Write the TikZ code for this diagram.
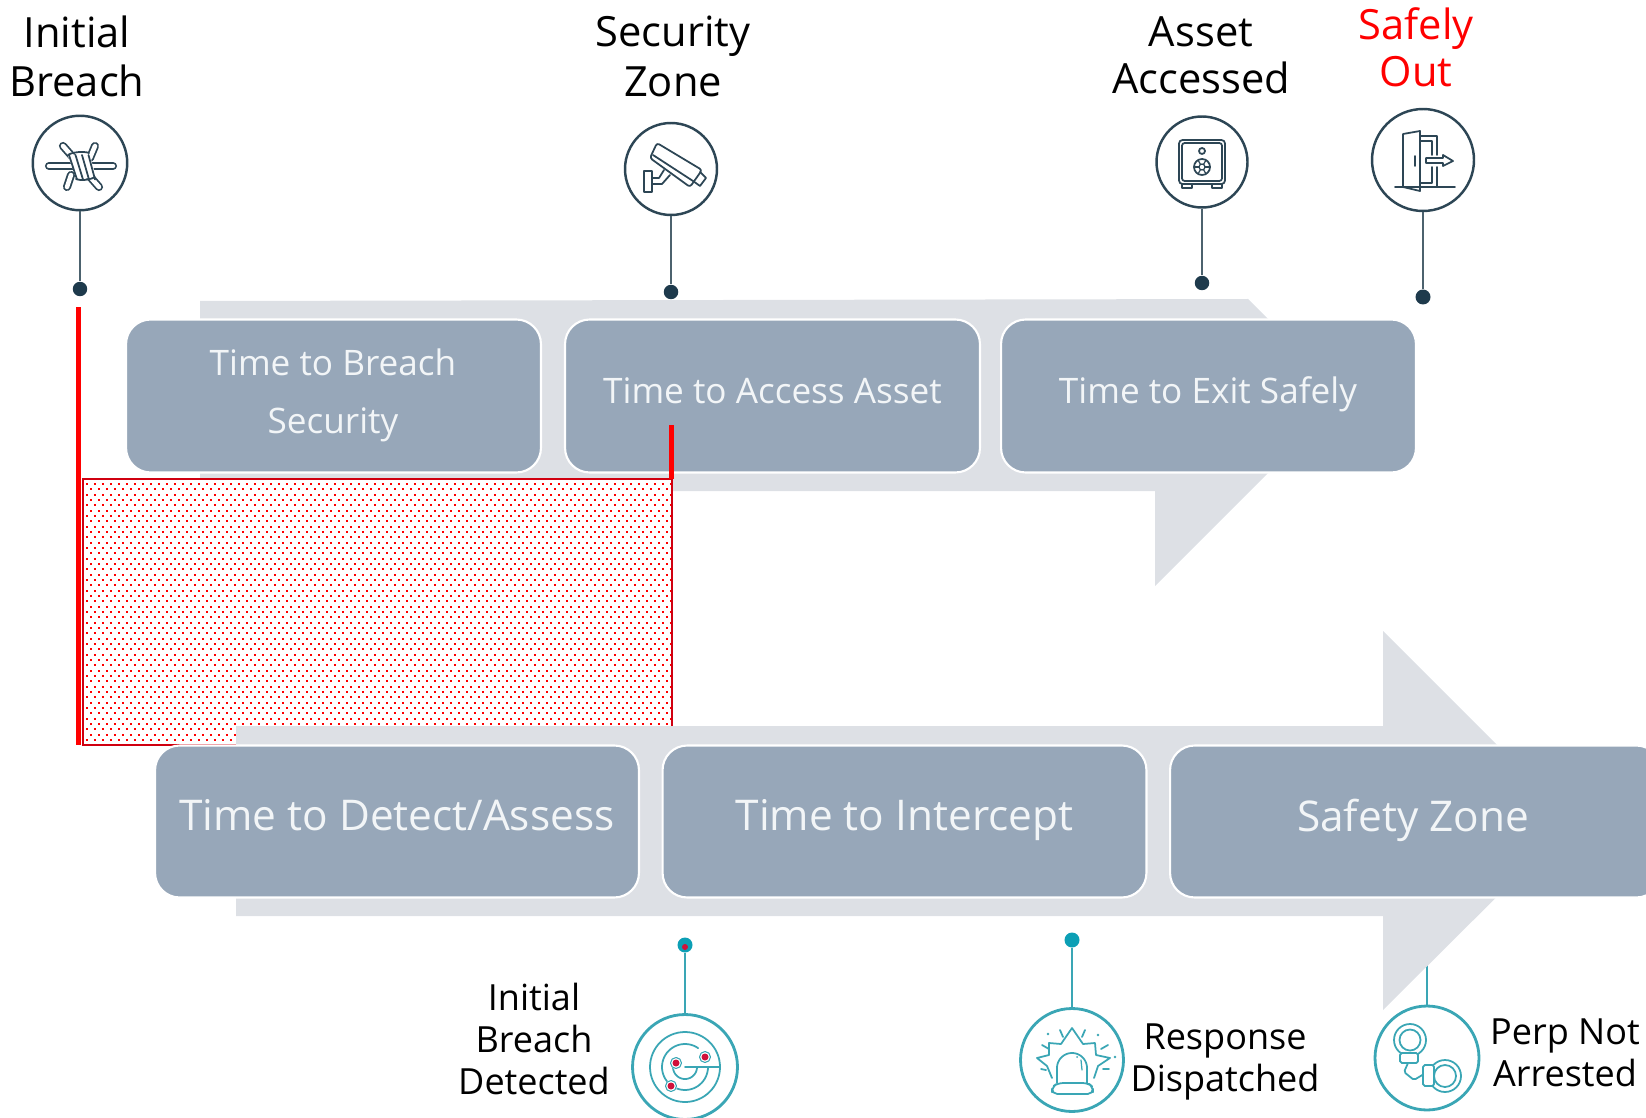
\documentclass[tikz,border=0pt]{standalone}
\usepackage{fontspec}
\setmainfont{Open Sans}
\definecolor{ink}{HTML}{2D4655}
\definecolor{inkdark}{HTML}{1E3A4C}
\definecolor{teal}{HTML}{3AA6B5}
\definecolor{dotteal}{HTML}{0C9FB5}
\definecolor{arrowgrey}{HTML}{DDE0E5}
\definecolor{boxblue}{HTML}{97A7B9}
\definecolor{boxtext}{HTML}{F2F5F7}
\definecolor{redline}{HTML}{FF0000}
\definecolor{redborder}{HTML}{D00010}
\definecolor{alert}{HTML}{D0103A}
\tikzset{
  topbox/.style={draw=white,line width=1.2pt,fill=boxblue,rounded corners=14pt,inner sep=0pt,minimum width=8.3cm,minimum height=3.06cm},
  lowbox/.style={draw=white,line width=1.2pt,fill=boxblue,rounded corners=14pt,inner sep=0pt,minimum width=9.68cm,minimum height=3.04cm},
  toptext/.style={text=boxtext,align=center,font=\fontsize{20}{33}\selectfont},
  lowtext/.style={text=boxtext,align=center,font=\fontsize{24.1}{30}\selectfont},
  headlabel/.style={text=black,align=center,font=\fontsize{23.7}{26.8}\selectfont},
  footlabel/.style={text=black,align=center,font=\fontsize{20.5}{23.9}\selectfont},
  inkring/.style={circle,draw=ink,line width=1.4pt,fill=white,inner sep=0pt},
  tealring/.style={circle,draw=teal,line width=1.6pt,fill=white,inner sep=0pt},
  inkdot/.style={circle,fill=inkdark,inner sep=0pt,minimum size=0.29cm},
  tealdot/.style={circle,fill=dotteal,inner sep=0pt,minimum size=0.3cm},
  inkstem/.style={draw=ink!85,line width=1.3pt},
  tealstem/.style={draw=teal,line width=1.3pt},
  glyph/.style={draw=ink,line width=1pt,line join=round,line cap=round},
  tglyph/.style={draw=teal,line width=1pt,line join=round,line cap=round},
  redbar/.style={fill=redline,draw=none},
}
\begin{document}
\begin{tikzpicture}[x=0.02cm,y=-0.02cm]
\useasboundingbox (0,0) rectangle (1646,1118);
\clip (0,0) rectangle (1646,1118);
% stem of the last foot icon runs behind the arrow
\coordinate (cuffend) at (1427,950);
\node[tealring,minimum size=2.08cm] (cuffs) at (1427,1058) {};
\draw[tealstem] (cuffs) -- (cuffend);
% upper arrow
\fill[arrowgrey] (200,301) -- (1248,299) -- (1345,396) -- (1155,586) -- (1155,491) -- (200,491) -- cycle;
\node[topbox] (tb1) at (333.5,396) {};
\node[topbox] (tb2) at (772.5,396) {};
\node[topbox] (tb3) at (1208.5,396) {};
\node[toptext] (tt1) at (333,395) {Time to Breach\\Security};
\node[toptext] (tt2) at (772.5,391) {Time to Access Asset};
\node[toptext] (tt3) at (1208,394) {Time to Exit Safely};
% hatched window
\fill[white] (83,479) rectangle (672,745);
\begin{scope}
\clip (84,480) rectangle (671,745);
\foreach \r in {0,...,25}{
  \draw[redline,line width=0.04cm,dash pattern=on 0.04cm off 0.12cm] (86,{484+\r*10.67}) -- (672,{484+\r*10.67});
  \draw[redline,line width=0.04cm,dash pattern=on 0.04cm off 0.12cm] (90,{489.3+\r*10.67}) -- (672,{489.3+\r*10.67});
}
\end{scope}
\draw[redborder,line width=0.05cm] (83,745) -- (83,479) -- (672,479) -- (672,745) -- cycle;
\fill[redbar] (76,307) rectangle (81,745);
\fill[redbar] (669,425) rectangle (674,479);
% lower arrow
\fill[arrowgrey] (236,726) -- (1383,726) -- (1383,631) -- (1573,821) -- (1383,1010) -- (1383,916) -- (236,916) -- cycle;
\node[lowbox] (lb1) at (397,821.5) {};
\node[lowbox] (lb2) at (904.5,821.5) {};
\node[lowbox,minimum width=9.82cm] (lb3) at (1415.5,821.5) {};
\node[lowtext] (lt1) at (397,815) {Time to Detect/Assess};
\node[lowtext] (lt2) at (904.5,820) {Time to Intercept};
\node[lowtext] (lt3) at (1413,820) {Safety Zone};
% upper pins
\node[inkring,minimum size=1.89cm] (c1) at (80,163) {};
\node[inkdot] (d1) at (80,289) {};
\draw[inkstem] (c1) -- (d1);
\node[inkring,minimum size=1.84cm] (c2) at (671,169) {};
\node[inkdot] (d2) at (671,292) {};
\draw[inkstem] (c2) -- (d2);
\node[inkring,minimum size=1.82cm] (c3) at (1202,162) {};
\node[inkdot] (d3) at (1202,283) {};
\draw[inkstem] (c3) -- (d3);
\node[inkring,minimum size=2.04cm] (c4) at (1423,160) {};
\node[inkdot,minimum size=0.3cm] (d4) at (1423,297) {};
\draw[inkstem] (c4) -- (d4);
% barbed wire
\draw[ink,line width=4.6pt,line cap=round] (49,166) -- (113,166);
\draw[white,line width=2.6pt,line cap=round] (49,166) -- (113,166);
\draw[ink,line width=4.6pt,line cap=round] (95,146) -- (90,158);
\draw[white,line width=2.6pt,line cap=round] (95,146) -- (90,158);
\draw[ink,line width=4.6pt,line cap=round] (71,175) -- (67,187);
\draw[white,line width=2.6pt,line cap=round] (71,175) -- (67,187);
\draw[ink,line width=4.6pt,line cap=round] (63,146) -- (99,187);
\draw[white,line width=2.6pt,line cap=round] (63,146) -- (99,187);
\fill[white] (68,156) -- (89,152) -- (96,177) -- (77,180) -- cycle;
\draw[glyph] (68,155) .. controls (72,152) and (84,151) .. (89,153);
\draw[glyph] (76,179) .. controls (80,181) and (90,180) .. (95,177);
\foreach \k in {0,1,2,3}{
  \draw[glyph] ({69+\k*6.5},155) -- ({77+\k*6},179.5);
}
% camera
\draw[glyph,rounded corners=1.5pt] (657,143) -- (702,170) -- (690,187) -- (650,158) -- cycle;
\draw[glyph] (653,155) -- (693,181);
\draw[glyph] (700,172) -- (706,178) -- (700,186) -- (693,181);
\draw[glyph] (644,171) rectangle (652,192);
\draw[glyph] (652,178) -- (659,178) -- (664,170);
\draw[glyph] (652,184) -- (662,184) -- (670,175);
% safe
\draw[glyph,rounded corners=2pt] (1179,140) rectangle (1225,184);
\draw[glyph,rounded corners=1.5pt] (1182,143) rectangle (1222,181);
\draw[glyph] (1202,151) circle (3);
\draw[glyph] (1202,167) circle (8);
\draw[glyph,line width=0.7pt] (1202,167) circle (3);
\foreach \t in {0,60,120,180,240,300}{\draw[glyph,line width=0.7pt] (1202,167) ++(\t:3) -- ++(\t:5);}
\draw[glyph] (1182,184) -- (1182,188) -- (1192,188) -- (1192,184);
\draw[glyph] (1212,184) -- (1212,188) -- (1222,188) -- (1222,184);
% door
\draw[glyph] (1395,187) -- (1455,187);
\draw[glyph] (1403,187) -- (1403,134) -- (1420,131) -- (1420,191) -- cycle;
\draw[glyph] (1420,136) -- (1437,136) -- (1437,155);
\draw[glyph] (1420,141) -- (1432,141) -- (1432,155);
\draw[glyph] (1437,167) -- (1437,187);
\draw[glyph] (1432,167) -- (1432,183) -- (1420,183);
\draw[glyph] (1415,156) -- (1415,166);
\draw[glyph] (1426,158) -- (1443,158) -- (1443,155) -- (1453,161) -- (1443,166) -- (1443,163) -- (1426,163) -- cycle;
% lower pins
\node[tealring,minimum size=2.1cm] (c5) at (685,1067) {};
\node[tealdot] (d5) at (685,945) {};
\draw[tealstem] (c5) -- (d5);
\fill[alert] (685,947) circle (3);
\node[tealring,minimum size=2.06cm] (c6) at (1072,1060) {};
\node[tealdot] (d6) at (1072,940) {};
\draw[tealstem] (c6) -- (d6);
% radar
\draw[tglyph] (685,1067) circle (35);
\draw[tglyph] plot[domain=55:360,samples=50,smooth] ({685+23*cos(\x)},{1067-23*sin(\x)});
\draw[tglyph] plot[domain=130:360,samples=40,smooth] ({685+12*cos(\x)},{1067-12*sin(\x)});
\draw[tglyph] (685,1067) -- (720,1067);
\foreach \p/\q in {705/1057,676/1063,671/1086}{
  \fill[white] (\p,\q) circle (6);
  \draw[tglyph,line width=0.6pt] (\p,\q) circle (5.5);
  \fill[alert] (\p,\q) circle (3.5);
}
% alarm
\draw[tglyph,rounded corners=3pt] (1052,1094) -- (1052,1087) -- (1058,1083) -- (1088,1083) -- (1093,1087) -- (1093,1094) -- cycle;
\draw[tglyph] (1057,1083) -- (1057,1068) plot[domain=180:0,samples=30,smooth] ({1072+15*cos(\x)},{1068-15*sin(\x)}) -- (1087,1083);
\fill[teal] (1077,1057) circle (1);
\draw[tglyph,line width=0.7pt] (1081,1060) -- (1082,1070);
\draw[tglyph] (1052,1078) -- (1047,1066) -- (1037,1058) -- (1049,1055) -- (1049,1043) -- (1061,1044) -- (1072,1028) -- (1083,1044) -- (1095,1043) -- (1096,1055) -- (1110,1058) -- (1098,1066) -- (1094,1078);
\foreach \a/\b/\c/\d in {1060/1030/1063/1037,1085/1030/1082/1037,1108/1045/1101/1049,1042/1045/1049/1049,1041/1069/1046/1070,1103/1069/1109/1069}{
  \draw[tglyph] (\a,\b) -- (\c,\d);
}
\foreach \a/\b in {1048/1034,1098/1035,1115/1057}{\fill[teal] (\a,\b) circle (1.3);}
% handcuffs
\draw[tglyph] (1410,1040) circle (16);
\draw[tglyph] (1410,1040) circle (10.5);
\draw[tglyph,fill=white,rounded corners=1pt] (1400,1053) rectangle (1418,1063);
\draw[tglyph,fill=white,rounded corners=1pt] (1408,1063) -- (1404,1072) -- (1414,1080) -- (1424,1074);
\draw[tglyph] (1445,1076) circle (16);
\draw[tglyph] (1445,1076) circle (11);
\draw[tglyph,fill=white,rounded corners=1pt] (1423,1065) rectangle (1434,1086);
% labels
\node[headlabel] (l1) at (77,56) {Initial\\[1.2pt]Breach};
\node[headlabel] (l2) at (673,56.5) {Security\\[1.2pt]Zone};
\node[headlabel] (l3) at (1201,55.5) {Asset\\Accessed};
\node[headlabel,text=redline] (l4) at (1416,47) {Safely\\Out};
\node[footlabel] (l5) at (534,1039) {Initial\\Breach\\Detected};
\node[footlabel] (l6) at (1225,1062) {Response\\Dispatched};
\node[footlabel] (l7) at (1565,1053) {Perp Not\\Arrested};
\end{tikzpicture}
\end{document}
